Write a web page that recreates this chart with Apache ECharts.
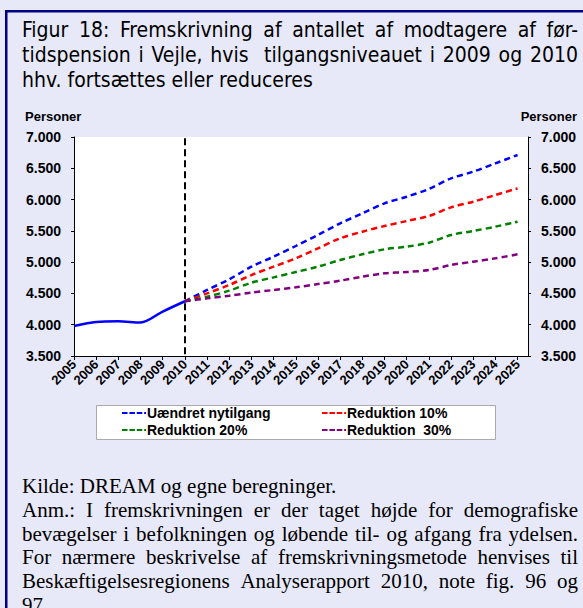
<!DOCTYPE html>
<html>
<head>
<meta charset="utf-8">
<script src="https://cdn.jsdelivr.net/npm/echarts@6/dist/echarts.min.js"></script>
<style>
html,body{margin:0;padding:0;background:#fff;}
#c{width:583px;height:608px;}
</style>
</head>
<body>
<div id="c"></div>
<script>
// ---- data ----
const years = [2005,2006,2007,2008,2009,2010,2011,2012,2013,2014,2015,2016,2017,2018,2019,2020,2021,2022,2023,2024,2025];
const histYears = [2005,2006,2007,2008,2009,2010];
const projYears = [2010,2011,2012,2013,2014,2015,2016,2017,2018,2019,2020,2021,2022,2023,2024,2025];
const historik    = [3980,4045,4055,4035,4210,4375];
const uaendret    = [4375,4555,4725,4928,5087,5258,5434,5620,5780,5940,6046,6169,6339,6446,6579,6712];
const reduktion10 = [4375,4501,4635,4794,4928,5061,5221,5380,5487,5577,5657,5737,5876,5966,6073,6179];
const reduktion20 = [4375,4448,4544,4672,4757,4842,4928,5034,5125,5205,5247,5311,5434,5498,5567,5647];
const reduktion30 = [4375,4421,4464,4512,4555,4597,4650,4704,4768,4821,4842,4874,4954,5008,5061,5125];
const seriesNames = ['Uændret nytilgang','Reduktion 10%','Reduktion 20%','Reduktion  30%'];
const yTicks = [3500,4000,4500,5000,5500,6000,6500,7000];
const titleLines = ['Figur 18: Fremskrivning af antallet af modtagere af før-','tidspension i Vejle, hvis  tilgangsniveauet i 2009 og 2010','hhv. fortsættes eller reduceres'];
const noteLines = ['Kilde: DREAM og egne beregninger.','Anm.: I fremskrivningen er der taget højde for demografiske','bevægelser i befolkningen og løbende til- og afgang fra ydelsen.','For nærmere beskrivelse af fremskrivningsmetode henvises til','Beskæftigelsesregionens Analyserapport 2010, note fig. 96 og','97.'];
const markYear = 2010;

const pair = (xs, vs) => xs.map((x, i) => [x, vs[i]]);
const fmt = v => String(v).replace(/\B(?=(\d{3})+(?!\d))/g, '.');

const sans = 'Arial, "Liberation Sans", sans-serif';
const narrow = '"Liberation Sans Narrow", "Arial Narrow", "DejaVu Sans Condensed", sans-serif';
const serif = '"Times New Roman", "Liberation Serif", serif';

// justify lines (block text) by widening the spaces through rich-text gap tokens
const mctx = document.createElement('canvas').getContext('2d');
function justify(lines, justifyIdx, size, family, target, prefix, lh) {
  mctx.font = size + 'px ' + family;
  const rich = {};
  const out = lines.map((line, i) => {
    if (justifyIdx.indexOf(i) < 0) return line;
    const toks = line.split(' ');
    const wordsW = toks.reduce((s, t) => s + mctx.measureText(t).width, 0);
    const gap = Math.max(2, (target - wordsW) / (toks.length - 1));
    const key = prefix + i;
    rich[key] = {width: gap, fontSize: size, fontFamily: family, lineHeight: lh};
    return toks.join('{' + key + '| }');
  });
  return {text: out.join('\n'), rich};
}

const titleJ = justify(titleLines, [0, 1], 21, narrow, 556, 'tg', 25);
const noteJ = justify(noteLines, [1, 2, 3, 4], 21, serif, 556, 'ng', 23.8);

const chart = echarts.init(document.getElementById('c'), null, {renderer: 'svg'});

const yAxisCommon = {
  type: 'value', min: 3500, max: 7000, interval: 500,
  axisLine: {show: true, lineStyle: {color: '#000', width: 1}},
  axisTick: {show: true, length: 3, lineStyle: {color: '#000'}},
  splitLine: {show: false},
  axisLabel: {color: '#000', fontFamily: sans, fontWeight: 'bold', fontSize: 14, margin: 13, formatter: fmt}
};

const dashed = (name, color, vs) => ({
  name, type: 'line', data: pair(projYears, vs), symbol: 'none', smooth: 0.3,
  lineStyle: {color, width: 2.5, type: [6, 4]}, itemStyle: {color}, z: 3
});

const legendCommon = {
  orient: 'vertical', top: 406, padding: 0,
  icon: 'path://M0,0H6V2H0Z M8,0H14V2H8Z M16,0H22V2H16Z M24,0H26V2H24Z',
  itemWidth: 24, itemHeight: 2.5, itemGap: 3,
  textStyle: {fontFamily: sans, fontWeight: 'bold', fontSize: 14, color: '#000', lineHeight: 14, padding: [0,0,0,-4]}
};

chart.setOption({
  backgroundColor: '#E7E9F9',
  animation: false,
  title: [
    {text: titleJ.text, left: 22, top: 17, padding: 0,
     textStyle: {fontFamily: narrow, fontWeight: 'normal', fontSize: 21, lineHeight: 25, color: '#000', rich: titleJ.rich}},
    {text: 'Personer', left: 25, top: 110, padding: 0, textStyle: {fontFamily: sans, fontWeight: 'bold', fontSize: 13, color: '#000'}},
    {text: 'Personer', right: 6, top: 110, padding: 0, textStyle: {fontFamily: sans, fontWeight: 'bold', fontSize: 13, color: '#000'}},
    {text: noteJ.text, left: 22, top: 474, padding: 0,
     textStyle: {fontFamily: serif, fontWeight: 'normal', fontSize: 21, lineHeight: 23.8, color: '#000', rich: noteJ.rich}}
  ],
  graphic: [
    {type: 'rect', shape: {x: 6.25, y: 11.25, width: 700, height: 700}, style: {fill: 'none', stroke: '#000080', lineWidth: 2.5}, z: 10},
    {type: 'rect', shape: {x: 96.5, y: 405.5, width: 399, height: 34}, style: {fill: '#fff', stroke: '#aaa', lineWidth: 1}, z: 0}
  ],
  grid: {left: 74, right: 55, top: 137, bottom: 252, show: true, backgroundColor: '#fff', borderWidth: 0},
  xAxis: {
    type: 'value', min: years[0], max: years[years.length - 1] + 0.47,
    axisLine: {show: true, onZero: false, lineStyle: {color: '#000', width: 1}},
    axisTick: {show: true, length: 4, customValues: years, lineStyle: {color: '#000'}},
    splitLine: {show: false},
    axisLabel: {customValues: years, formatter: v => String(v), rotate: 45, color: '#000',
                fontFamily: sans, fontWeight: 'bold', fontSize: 13, margin: 6}
  },
  yAxis: [
    Object.assign({}, yAxisCommon, {position: 'left'}),
    Object.assign({}, yAxisCommon, {position: 'right'})
  ],
  legend: [
    Object.assign({}, legendCommon, {data: [seriesNames[0], seriesNames[2]], left: 122}),
    Object.assign({}, legendCommon, {data: [seriesNames[1], seriesNames[3]], left: 322})
  ],
  series: [
    {name: 'Historik', type: 'line', data: pair(histYears, historik), symbol: 'none', smooth: 0.3,
     lineStyle: {color: '#0000FF', width: 2.5}, z: 4,
     markLine: {silent: true, symbol: 'none', label: {show: false},
       lineStyle: {color: '#000', width: 2, type: [7, 4]},
       data: [[{coord: [markYear, 6980]}, {coord: [markYear, 3500]}]]}},
    dashed(seriesNames[0], '#0000FF', uaendret),
    dashed(seriesNames[1], '#FF0000', reduktion10),
    dashed(seriesNames[2], '#008000', reduktion20),
    dashed(seriesNames[3], '#800080', reduktion30)
  ]
});
</script>
</body>
</html>
